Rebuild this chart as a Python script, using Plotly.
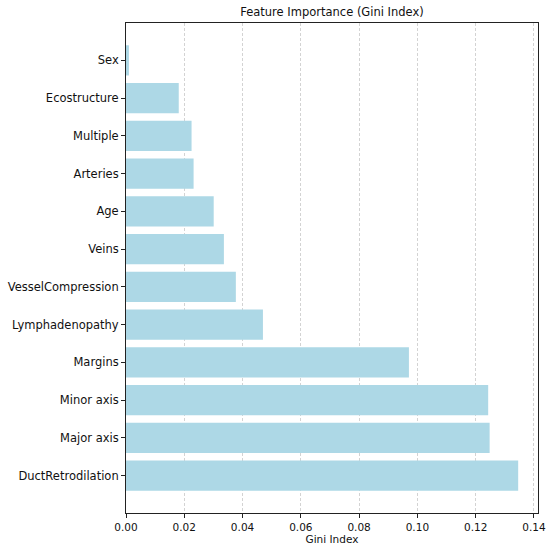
import plotly.graph_objects as go

features = ["DuctRetrodilation", "Major axis", "Minor axis", "Margins", "Lymphadenopathy",
            "VesselCompression", "Veins", "Age", "Arteries", "Multiple", "Ecostructure", "Sex"]
importance = [0.1346, 0.1248, 0.1243, 0.0971, 0.0470, 0.0377, 0.0336, 0.0301, 0.0232, 0.0225, 0.0181, 0.0010]
x_ticks = [0.00, 0.02, 0.04, 0.06, 0.08, 0.10, 0.12, 0.14]

fig = go.Figure(go.Bar(
    x=importance, y=features, orientation="h",
    marker=dict(color="#ADD8E6", line=dict(width=0)),
    width=0.8,
    hoverinfo="skip",
))

font = dict(family="DejaVu Sans", size=11, color="#111")
fig.update_layout(
    width=550, height=549,
    margin=dict(l=126, r=12, t=23, b=36),
    plot_bgcolor="white", paper_bgcolor="white",
    font=font,
    showlegend=False,
    title=dict(text="Feature Importance (Gini Index)", x=(126 + 538) / 2 / 550, xanchor="center",
               y=1 - 12 / 549, yanchor="middle", font=dict(family="DejaVu Sans", size=11.5, color="#111")),
    bargap=0.2,
)
fig.update_xaxes(
    range=[0, 0.1414], tickvals=x_ticks, tickformat=".2f",
    showgrid=True, gridcolor="rgba(175,175,175,0.55)", griddash="3px,2px", gridwidth=1,
    zeroline=False, automargin=False,
    showline=True, linecolor="#222", linewidth=1, mirror=True,
    ticks="outside", ticklen=4, tickcolor="#222",
    title=dict(text="Gini Index", font=dict(family="DejaVu Sans", size=10.5, color="#111"), standoff=4),
    tickfont=dict(family="DejaVu Sans", size=10.5, color="#111"),
)
fig.update_yaxes(
    type="category", range=[-0.99, 11.99],
    showgrid=False, zeroline=False, automargin=False,
    showline=True, linecolor="#222", linewidth=1, mirror=True,
    ticks="outside", ticklen=4, tickcolor="#222",
    tickfont=dict(family="DejaVu Sans", size=11.5, color="#111"),
)

fig.write_html("out.html", config={"displayModeBar": False},
               post_script="document.body.style.margin='0';")
